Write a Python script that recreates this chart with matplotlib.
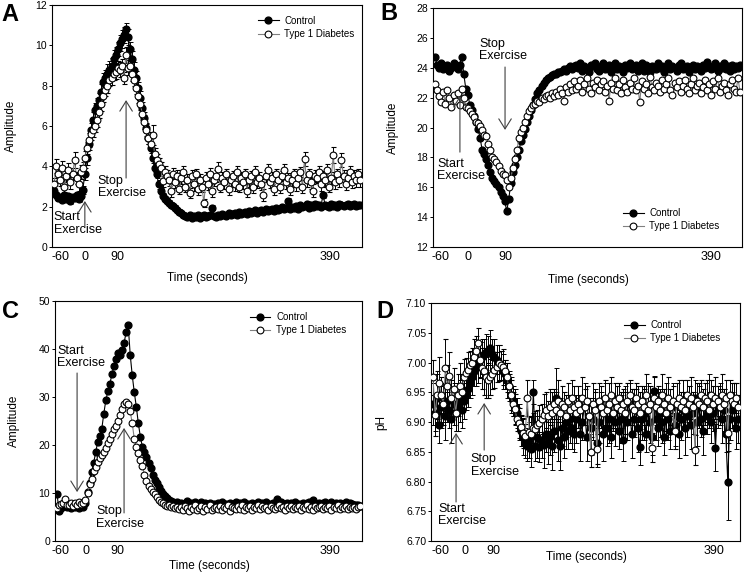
import numpy as np
import matplotlib
matplotlib.use("Agg")
import matplotlib.pyplot as plt
from matplotlib.ticker import FormatStrFormatter

plt.rcParams['font.family'] = ['Liberation Sans', 'DejaVu Sans']

tick_text = ["-60", "0", "90", "390"]
series_names = ["Control", "Type 1 Diabetes"]

# panel A (amplitude)
ctrl_a = [2.8, 2.6, 2.45, 2.5, 2.35, 2.6, 2.4, 2.55, 2.3, 2.5,
          2.45, 2.6, 2.4, 2.55, 2.85, 3.6, 4.4, 5.1, 5.8, 6.3,
          6.8, 7.0, 7.3, 7.7, 8.2, 8.4, 8.6, 8.8, 9.0, 9.3,
          9.5, 9.8, 10.1, 10.3, 10.5, 10.8, 10.4, 9.8, 9.3, 8.8,
          8.4, 7.9, 7.4, 6.9, 6.4, 5.9, 5.4, 4.9, 4.4, 3.9,
          3.6, 3.1, 2.8, 2.55, 2.4, 2.3, 2.2, 2.1, 2.05, 1.95,
          1.85, 1.75, 1.7, 1.6, 1.55, 1.5, 1.6, 1.45, 1.55, 1.5,
          1.6, 1.45, 1.55, 1.6, 1.5, 1.55, 1.6, 1.95, 1.55, 1.5,
          1.6, 1.55, 1.65, 1.6, 1.55, 1.7, 1.6, 1.65, 1.7, 1.6,
          1.75, 1.65, 1.7, 1.75, 1.65, 1.8, 1.7, 1.75, 1.85, 1.7,
          1.8, 1.85, 1.75, 1.9, 1.8, 1.85, 1.9, 1.8, 1.95, 1.85,
          1.9, 2.0, 1.9, 1.95, 2.3, 1.9, 2.0, 1.95, 2.05, 1.9,
          2.1, 2.0, 2.05, 2.15, 1.95, 2.1, 2.0, 2.15, 2.05, 2.1,
          2.0, 2.6, 2.1, 2.05, 2.0, 2.15, 2.05, 2.1, 2.0, 2.15,
          2.1, 2.05, 2.1, 2.15, 2.05, 2.1, 2.15, 2.05, 2.1, 2.1]
err_ctrl_a = [0.15, 0.12, 0.15, 0.1, 0.12, 0.15, 0.1, 0.12, 0.15, 0.12,
              0.1, 0.12, 0.15, 0.12, 0.2, 0.3, 0.35, 0.3, 0.35, 0.4,
              0.35, 0.4, 0.35, 0.4, 0.45, 0.4, 0.45, 0.4, 0.35, 0.45,
              0.4, 0.35, 0.4, 0.45, 0.4, 0.3, 0.4, 0.35, 0.4, 0.35,
              0.35, 0.3, 0.35, 0.3, 0.3, 0.25, 0.3, 0.25, 0.25, 0.2,
              0.2, 0.2, 0.15, 0.15, 0.15, 0.12, 0.12, 0.12, 0.1, 0.12,
              0.1, 0.12, 0.1, 0.12, 0.1, 0.12, 0.1, 0.12, 0.1, 0.12,
              0.1, 0.12, 0.1, 0.12, 0.1, 0.12, 0.1, 0.12, 0.1, 0.12,
              0.1, 0.12, 0.1, 0.12, 0.1, 0.12, 0.1, 0.12, 0.1, 0.12,
              0.1, 0.12, 0.1, 0.12, 0.1, 0.12, 0.1, 0.12, 0.1, 0.12,
              0.1, 0.12, 0.1, 0.12, 0.1, 0.12, 0.1, 0.12, 0.1, 0.12,
              0.1, 0.12, 0.1, 0.12, 0.15, 0.12, 0.1, 0.12, 0.1, 0.12,
              0.1, 0.12, 0.1, 0.12, 0.1, 0.12, 0.1, 0.12, 0.1, 0.12,
              0.1, 0.15, 0.1, 0.12, 0.1, 0.12, 0.1, 0.12, 0.1, 0.12,
              0.1, 0.12, 0.1, 0.12, 0.1, 0.12, 0.1, 0.12, 0.1, 0.12]
t1d_a = [3.1, 4.0, 3.6, 3.3, 3.9, 3.0, 3.5, 3.8, 3.2, 3.6,
         4.3, 3.4, 3.1, 3.7, 3.9, 4.4, 4.9, 5.3, 5.6, 5.8,
         6.0, 6.3, 6.7, 7.1, 7.5, 7.8, 8.0, 8.3, 8.4, 8.6,
         8.7, 8.9, 8.8, 9.0, 8.4, 9.5, 8.9, 9.0, 8.6, 8.3,
         7.9, 7.5, 7.1, 6.6, 6.2, 5.8, 5.4, 5.1, 5.55, 4.6,
         4.3, 4.1, 3.9, 3.25, 3.7, 3.5, 3.3, 2.8, 3.6, 3.2,
         3.5, 2.9, 3.4, 3.7, 3.0, 3.3, 2.7, 3.5, 3.1, 3.6,
         2.9, 3.3, 3.0, 2.2, 3.4, 3.1, 3.6, 2.8, 3.3, 3.5,
         3.85, 3.0, 3.4, 3.2, 3.6, 2.9, 3.3, 3.5, 3.1, 3.7,
         3.0, 3.4, 3.2, 3.6, 2.8, 3.3, 3.5, 3.0, 3.7, 3.2,
         3.4, 3.1, 2.6, 3.5, 3.8, 3.2, 3.4, 2.9, 3.6, 3.3,
         3.0, 3.5, 3.8, 3.2, 3.4, 2.9, 3.3, 3.6, 3.1, 3.4,
         3.7, 3.0, 4.35, 3.3, 3.6, 3.2, 2.8, 3.5, 3.4, 3.7,
         3.1, 3.5, 3.3, 3.8, 3.0, 3.4, 4.55, 3.2, 3.6, 3.3,
         4.3, 3.5, 3.1, 3.4, 3.7, 3.2, 3.5, 3.3, 3.6, 3.3]
err_t1d_a = [0.3, 0.35, 0.3, 0.25, 0.35, 0.3, 0.3, 0.35, 0.3, 0.3,
             0.4, 0.3, 0.3, 0.35, 0.3, 0.35, 0.3, 0.35, 0.3, 0.35,
             0.3, 0.35, 0.3, 0.35, 0.3, 0.3, 0.35, 0.3, 0.35, 0.3,
             0.35, 0.3, 0.35, 0.3, 0.3, 0.4, 0.35, 0.3, 0.35, 0.3,
             0.3, 0.35, 0.3, 0.3, 0.35, 0.3, 0.3, 0.3, 0.5, 0.3,
             0.3, 0.3, 0.3, 0.25, 0.3, 0.3, 0.25, 0.3, 0.3, 0.25,
             0.3, 0.25, 0.3, 0.3, 0.25, 0.3, 0.25, 0.3, 0.3, 0.25,
             0.3, 0.3, 0.25, 0.2, 0.3, 0.25, 0.3, 0.3, 0.25, 0.3,
             0.35, 0.25, 0.3, 0.3, 0.25, 0.3, 0.3, 0.25, 0.3, 0.3,
             0.25, 0.3, 0.3, 0.25, 0.3, 0.3, 0.25, 0.3, 0.3, 0.25,
             0.3, 0.25, 0.3, 0.3, 0.3, 0.25, 0.3, 0.3, 0.25, 0.3,
             0.3, 0.25, 0.3, 0.3, 0.25, 0.3, 0.3, 0.25, 0.3, 0.3,
             0.25, 0.3, 0.35, 0.3, 0.25, 0.3, 0.3, 0.3, 0.25, 0.3,
             0.3, 0.25, 0.3, 0.3, 0.25, 0.3, 0.4, 0.3, 0.25, 0.3,
             0.35, 0.3, 0.25, 0.3, 0.3, 0.25, 0.3, 0.3, 0.25, 0.3]

# panel B (amplitude)
ctrl_b = [24.7, 24.2, 24.0, 24.3, 23.9, 24.1, 24.2, 23.8, 24.0, 24.3,
          24.1, 23.9, 24.2, 24.7, 23.6, 22.6, 22.2, 21.5, 21.2, 20.8,
          20.4, 19.9, 19.3, 18.5, 18.2, 17.9, 17.5, 17.0, 16.6, 16.4,
          16.2, 16.0, 15.7, 15.4, 15.1, 14.4, 15.2, 16.3, 17.0, 17.5,
          18.0, 18.5, 19.1, 19.5, 19.9, 20.4, 20.8, 21.2, 21.5, 21.9,
          22.3, 22.5, 22.8, 23.0, 23.2, 23.3, 23.4, 23.5, 23.6, 23.6,
          23.7, 23.7, 23.8, 23.9, 23.8, 24.0, 24.1, 23.9, 24.1, 24.2,
          24.0, 24.3, 23.8, 24.1, 24.0, 23.7, 24.2, 24.1, 24.35, 23.9,
          23.8, 24.1, 24.3, 23.9, 24.0, 24.2, 23.7, 24.0, 24.3, 23.9,
          24.1, 24.0, 23.7, 24.2, 24.0, 24.3, 23.9, 24.0, 24.2, 23.8,
          24.0, 24.3, 23.8, 24.2, 24.0, 23.7, 24.1, 24.0, 23.9, 24.3,
          24.0, 24.1, 23.7, 24.0, 24.3, 23.9, 24.1, 24.0, 23.8, 24.2,
          24.3, 23.9, 24.0, 24.1, 23.7, 24.0, 24.2, 23.9, 24.1, 24.0,
          23.8, 24.2, 24.0, 24.4, 24.1, 23.9, 24.0, 24.3, 23.8, 24.1,
          24.0, 24.3, 23.9, 24.1, 23.8, 24.2, 23.9, 24.1, 24.0, 24.2]
t1d_b = [22.9, 22.5, 22.1, 21.7, 22.4, 21.6, 22.5, 22.0, 21.4, 22.2,
         21.8, 22.3, 21.5, 22.6, 22.0, 21.4, 21.3, 21.1, 20.9, 20.7,
         20.4, 20.3, 20.1, 19.8, 19.5, 19.4, 18.9, 18.5, 18.0, 17.9,
         17.7, 17.4, 17.1, 16.9, 16.8, 16.5, 16.0, 16.6, 17.3, 17.9,
         18.5, 19.3, 19.7, 20.0, 20.4, 20.8, 21.1, 21.3, 21.5, 21.6,
         21.8, 21.7, 22.0, 21.9, 22.1, 22.2, 22.0, 22.3, 22.1, 22.4,
         22.2, 22.6, 22.3, 21.8, 22.7, 22.4, 22.9, 22.5, 23.1, 22.6,
         22.8, 23.2, 22.4, 22.9, 23.3, 22.6, 22.3, 23.0, 22.7, 23.2,
         22.5, 22.9, 23.1, 22.4, 22.8, 21.8, 23.0, 22.6, 23.3, 22.5,
         22.9, 22.3, 23.2, 22.7, 22.4, 23.0, 22.6, 23.3, 22.5, 22.8,
         21.7, 23.1, 22.6, 22.9, 22.3, 23.4, 22.7, 22.5, 23.0, 22.8,
         22.4, 23.2, 22.6, 22.9, 23.3, 22.5, 22.2, 23.0, 22.7, 23.1,
         22.4, 22.8, 23.2, 22.6, 22.3, 22.9, 23.3, 22.5, 22.8, 23.0,
         22.3, 22.7, 23.2, 22.5, 22.9, 22.2, 23.1, 22.6, 23.3, 22.4,
         22.8, 23.0, 22.5, 22.2, 22.9, 23.2, 22.6, 22.4, 23.3, 22.4]

# panel C (amplitude)
ctrl_c = [9.8, 6.3, 6.8, 7.2, 7.8, 7.0, 7.5, 6.8, 7.6, 7.1,
          7.4, 6.9, 7.5, 7.0, 8.0, 10.2, 12.0, 14.3, 16.2, 18.5,
          20.6, 21.8, 23.3, 26.5, 29.3, 31.2, 32.8, 34.7, 36.4, 37.9,
          39.2, 38.7, 39.8, 41.3, 43.5, 45.0, 38.8, 34.5, 31.0, 28.0,
          24.5, 21.7, 19.6, 18.6, 17.6, 16.3, 15.2, 13.8, 12.7, 12.1,
          11.2, 10.4, 9.8, 9.4, 8.9, 8.5, 8.3, 8.1, 7.9, 8.2,
          7.6, 8.0, 7.3, 7.8, 8.3, 7.5, 7.9, 7.2, 8.1, 7.7,
          7.4, 8.2, 7.6, 7.9, 7.3, 8.0, 7.5, 7.8, 7.2, 7.9,
          7.6, 8.1, 7.4, 7.8, 7.5, 8.0, 7.3, 7.7, 8.2, 7.5,
          7.9, 7.6, 8.1, 7.4, 7.8, 7.5, 8.0, 7.3, 7.7, 8.2,
          7.5, 7.9, 7.6, 8.1, 7.4, 7.8, 8.0, 7.5, 8.8, 7.6,
          8.1, 7.4, 7.8, 8.0, 7.5, 7.9, 7.6, 8.2, 7.4, 7.8,
          7.6, 8.0, 7.3, 7.9, 8.1, 7.6, 8.5, 7.8, 7.6, 8.0,
          7.3, 7.9, 8.1, 7.6, 7.8, 8.2, 7.5, 7.9, 7.7, 8.0,
          7.6, 7.8, 8.1, 7.5, 7.9, 7.7, 7.6, 7.4, 7.5, 7.2]
t1d_c = [6.9, 7.4, 7.7, 8.0, 8.7, 7.6, 7.4, 7.9, 7.3, 8.0,
         7.6, 8.2, 7.7, 7.9, 8.5, 10.0, 11.8, 13.0, 14.5, 15.5,
         16.4, 17.2, 17.9, 18.6, 19.3, 20.4, 21.3, 22.3, 23.4, 23.9,
         25.1, 26.2, 27.5, 28.5, 28.9, 28.6, 27.0, 24.5, 21.3, 19.5,
         18.3, 16.9, 15.7, 13.8, 12.6, 11.5, 10.8, 10.3, 9.7, 9.1,
         8.6, 8.2, 7.9, 7.6, 7.3, 7.5, 7.0, 7.2, 6.8, 7.1,
         6.6, 7.1, 6.4, 7.3, 6.8, 6.2, 7.0, 6.7, 7.4, 6.5,
         6.9, 7.2, 6.3, 7.0, 6.7, 7.5, 6.4, 6.9, 7.1, 6.6,
         7.3, 6.5, 7.0, 6.8, 7.4, 6.3, 7.1, 6.9, 6.6, 7.2,
         6.7, 7.5, 6.4, 7.0, 6.8, 7.3, 6.5, 7.1, 6.9, 7.6,
         6.6, 7.2, 6.8, 7.0, 6.4, 7.3, 6.9, 6.6, 7.1, 7.4,
         6.8, 7.0, 6.5, 7.2, 6.9, 7.3, 6.6, 7.0, 6.8, 7.2,
         6.5, 7.1, 6.9, 7.4, 6.7, 7.0, 6.4, 7.2, 6.8, 7.1,
         7.3, 6.6, 7.0, 6.8, 7.2, 6.5, 7.1, 6.9, 7.4, 6.7,
         7.0, 6.8, 7.2, 6.6, 7.1, 6.9, 7.0, 6.7, 7.1, 7.2]

# panel D (pH)
ctrl_d = [6.930, 6.915, 6.940, 6.895, 6.925, 6.930, 6.910, 6.935, 6.920, 6.905,
          6.930, 6.915, 6.925, 6.935, 6.920, 6.935, 6.945, 6.955, 6.965, 6.975,
          6.985, 6.990, 7.000, 7.005, 7.010, 7.015, 7.018, 7.020, 7.025, 7.015,
          7.010, 7.005, 7.000, 6.995, 6.985, 6.980, 6.970, 6.960, 6.945, 6.935,
          6.925, 6.915, 6.900, 6.885, 6.875, 6.865, 6.860, 6.870, 6.855, 6.950,
          6.860, 6.875, 6.858, 6.870, 6.862, 6.880, 6.865, 6.875, 6.860, 6.885,
          6.940, 6.870, 6.860, 6.890, 6.875, 6.900, 6.885, 6.905, 6.890, 6.880,
          6.905, 6.925, 6.880, 6.900, 6.930, 6.875, 6.910, 6.890, 6.905, 6.925,
          6.865, 6.900, 6.920, 6.880, 6.930, 6.890, 6.905, 6.875, 6.915, 6.900,
          6.925, 6.885, 6.905, 6.870, 6.915, 6.900, 6.930, 6.880, 6.905, 6.920,
          6.890, 6.858, 6.905, 6.915, 6.880, 6.925, 6.900, 6.875, 6.952, 6.905,
          6.890, 6.915, 6.900, 6.875, 6.920, 6.905, 6.885, 6.925, 6.895, 6.910,
          6.880, 6.905, 6.920, 6.890, 6.910, 6.930, 6.895, 6.915, 6.940, 6.900,
          6.925, 6.905, 6.885, 6.930, 6.910, 6.935, 6.900, 6.915, 6.857, 6.925,
          6.935, 6.905, 6.920, 6.880, 6.800, 6.905, 6.920, 6.925, 6.890, 6.905]
err_ctrl_d = [0.035, 0.03, 0.04, 0.03, 0.035, 0.03, 0.04, 0.035, 0.03, 0.04,
              0.035, 0.03, 0.04, 0.035, 0.03, 0.03, 0.025, 0.03, 0.025, 0.03,
              0.025, 0.03, 0.035, 0.03, 0.03, 0.025, 0.03, 0.025, 0.03, 0.025,
              0.03, 0.025, 0.03, 0.025, 0.03, 0.025, 0.03, 0.025, 0.03, 0.025,
              0.03, 0.025, 0.03, 0.025, 0.03, 0.025, 0.025, 0.03, 0.03, 0.02,
              0.025, 0.035, 0.025, 0.03, 0.04, 0.03, 0.035, 0.03, 0.04, 0.035,
              0.05, 0.035, 0.04, 0.03, 0.035, 0.045, 0.03, 0.04, 0.035, 0.03,
              0.04, 0.035, 0.045, 0.03, 0.035, 0.04, 0.03, 0.045, 0.035, 0.03,
              0.04, 0.035, 0.03, 0.045, 0.035, 0.03, 0.04, 0.035, 0.03, 0.04,
              0.035, 0.03, 0.04, 0.035, 0.045, 0.03, 0.035, 0.04, 0.03, 0.035,
              0.04, 0.03, 0.035, 0.045, 0.03, 0.04, 0.035, 0.03, 0.025, 0.035,
              0.03, 0.04, 0.035, 0.03, 0.045, 0.035, 0.03, 0.04, 0.035, 0.03,
              0.04, 0.035, 0.03, 0.045, 0.035, 0.03, 0.04, 0.035, 0.03, 0.04,
              0.035, 0.03, 0.04, 0.035, 0.03, 0.045, 0.035, 0.03, 0.04, 0.035,
              0.03, 0.04, 0.035, 0.03, 0.065, 0.035, 0.03, 0.04, 0.035, 0.04]
t1d_d = [6.975, 6.912, 6.945, 6.965, 6.945, 6.930, 6.990, 6.960, 6.978, 6.940,
         6.955, 6.915, 6.945, 6.960, 6.950, 6.976, 6.982, 6.988, 6.995, 7.000,
         7.010, 7.020, 7.033, 7.004, 6.990, 6.985, 6.975, 6.970, 6.976, 6.980,
         6.988, 6.992, 6.999, 6.995, 6.993, 6.985, 6.975, 6.960, 6.945, 6.930,
         6.922, 6.905, 6.898, 6.892, 6.882, 6.876, 6.940, 6.884, 6.880, 6.890,
         6.888, 6.895, 6.898, 6.905, 6.912, 6.920, 6.910, 6.925, 6.915, 6.930,
         6.920, 6.935, 6.915, 6.930, 6.925, 6.910, 6.935, 6.920, 6.940, 6.925,
         6.915, 6.930, 6.920, 6.940, 6.925, 6.935, 6.910, 6.850, 6.930, 6.920,
         6.855, 6.935, 6.925, 6.915, 6.940, 6.920, 6.930, 6.945, 6.915, 6.935,
         6.925, 6.940, 6.920, 6.930, 6.915, 6.935, 6.945, 6.925, 6.920, 6.940,
         6.930, 6.915, 6.935, 6.925, 6.945, 6.920, 6.930, 6.857, 6.940, 6.925,
         6.935, 6.920, 6.945, 6.930, 6.915, 6.940, 6.925, 6.935, 6.885, 6.930,
         6.940, 6.925, 6.935, 6.920, 6.945, 6.930, 6.940, 6.925, 6.853, 6.935,
         6.930, 6.945, 6.925, 6.940, 6.935, 6.920, 6.945, 6.930, 6.940, 6.935,
         6.925, 6.945, 6.930, 6.940, 6.882, 6.945, 6.935, 6.930, 6.940, 6.925]
err_t1d_d = [0.03, 0.035, 0.04, 0.045, 0.03, 0.035, 0.05, 0.035, 0.04, 0.03,
             0.035, 0.03, 0.035, 0.04, 0.03, 0.03, 0.025, 0.03, 0.025, 0.025,
             0.03, 0.025, 0.025, 0.03, 0.035, 0.04, 0.035, 0.03, 0.03, 0.025,
             0.03, 0.025, 0.03, 0.025, 0.03, 0.02, 0.025, 0.02, 0.025, 0.02,
             0.025, 0.02, 0.025, 0.02, 0.025, 0.02, 0.03, 0.025, 0.03, 0.025,
             0.03, 0.025, 0.03, 0.025, 0.035, 0.03, 0.025, 0.03, 0.035, 0.025,
             0.03, 0.035, 0.025, 0.03, 0.025, 0.035, 0.03, 0.025, 0.03, 0.035,
             0.025, 0.03, 0.025, 0.035, 0.03, 0.025, 0.03, 0.025, 0.035, 0.03,
             0.025, 0.03, 0.035, 0.025, 0.03, 0.025, 0.035, 0.03, 0.025, 0.03,
             0.035, 0.025, 0.03, 0.025, 0.035, 0.03, 0.025, 0.03, 0.035, 0.025,
             0.03, 0.035, 0.025, 0.03, 0.035, 0.025, 0.03, 0.025, 0.035, 0.03,
             0.025, 0.03, 0.035, 0.025, 0.03, 0.035, 0.03, 0.025, 0.03, 0.035,
             0.03, 0.025, 0.035, 0.03, 0.025, 0.03, 0.035, 0.025, 0.025, 0.03,
             0.035, 0.025, 0.03, 0.025, 0.035, 0.03, 0.025, 0.03, 0.035, 0.025,
             0.03, 0.035, 0.025, 0.03, 0.03, 0.025, 0.03, 0.035, 0.025, 0.02]


fig = plt.figure(figsize=(7.47, 5.75), dpi=100)

MS = 4.9


def draw_panel(ax, ctrl, t1d, err_c=None, err_t=None):
    x = np.arange(len(ctrl))
    if err_c is None:
        h1, = ax.plot(x, ctrl, '-o', color='black', mfc='black', mec='black',
                      ms=MS, lw=0.8, zorder=2)
        h2, = ax.plot(x, t1d, '-o', color='0.5', mfc='white', mec='black',
                      mew=0.8, ms=MS, lw=0.8, zorder=3)
    else:
        e1 = ax.errorbar(x, ctrl, yerr=err_c, fmt='-o', color='black',
                         mfc='black', mec='black', ms=MS, lw=0.8,
                         ecolor='black', elinewidth=0.7, capsize=1.8,
                         capthick=0.7, zorder=2)
        e2 = ax.errorbar(x, t1d, yerr=err_t, fmt='-o', color='0.5',
                         mfc='white', mec='black', mew=0.8, ms=MS, lw=0.8,
                         ecolor='black', elinewidth=0.7, capsize=1.8,
                         capthick=0.7, zorder=3)
        h1, h2 = e1[0], e2[0]
    ax.set_xlim(-1, len(ctrl))
    for s in ax.spines.values():
        s.set_linewidth(0.8)
    ax.tick_params(axis='x', length=0, pad=3, labelsize=9)
    ax.tick_params(axis='y', length=2.5, width=0.7, direction='out', pad=1,
                   labelsize=7.5)
    return h1, h2


def label_arrow(ax, text, text_xy, tip, tail):
    ax.text(text_xy[0], text_xy[1], text, transform=ax.transAxes,
            ha='left', va='center', fontsize=9, linespacing=1.05)
    ax.annotate('', xy=tip, xytext=tail, xycoords='axes fraction',
                textcoords='axes fraction',
                arrowprops=dict(arrowstyle='->,head_length=0.72,head_width=0.45',
                                color='#404040', lw=0.8, shrinkA=0, shrinkB=0,
                                mutation_scale=10))


def finish(ax, ticks, ylab, ylab_x, xlab_y, handles, leg_xy):
    ax.set_xticks(ticks)
    ax.set_xticklabels(tick_text)
    ax.set_ylabel(ylab, fontsize=8.5)
    ax.yaxis.set_label_coords(ylab_x, 0.5)
    ax.set_xlabel("Time (seconds)", fontsize=8.5)
    ax.xaxis.set_label_coords(0.503, xlab_y)
    ax.xaxis.label.set_va('center')
    ax.legend(handles, series_names, loc='upper left', bbox_to_anchor=leg_xy,
              frameon=False, fontsize=7, handlelength=2.1, handletextpad=0.6,
              labelspacing=0.35, borderpad=0, borderaxespad=0)


# A
ax = fig.add_axes([0.0696, 0.5704, 0.415, 0.4209])
h = draw_panel(ax, ctrl_a, t1d_a, err_ctrl_a, err_t1d_a)
ax.set_ylim(0, 12)
ax.set_yticks(np.arange(0, 13, 2))
finish(ax, [3.38, 15.07, 30.66, 134.4], "Amplitude", -0.113, -0.128, h, (0.665, 0.955))
label_arrow(ax, "Start\nExercise", (0.006, 0.097), (0.106, 0.19), (0.106, 0.083))
label_arrow(ax, "Stop\nExercise", (0.148, 0.248), (0.239, 0.607), (0.239, 0.285))

# B
ax = fig.add_axes([0.5797, 0.5704, 0.4137, 0.4157])
h = draw_panel(ax, ctrl_b, t1d_b)
ax.set_ylim(12, 28)
ax.set_yticks(np.arange(12, 29, 2))
finish(ax, [2.42, 16.1, 34.18, 134.85], "Amplitude", -0.11, -0.138, h, (0.615, 0.163))
label_arrow(ax, "Start\nExercise", (0.013, 0.322), (0.087, 0.632), (0.087, 0.397))
label_arrow(ax, "Stop\nExercise", (0.149, 0.824), (0.233, 0.49), (0.233, 0.753))

# C
ax = fig.add_axes([0.0736, 0.0591, 0.411, 0.4174])
h = draw_panel(ax, ctrl_c, t1d_c)
ax.set_ylim(0, 50)
ax.set_yticks(np.arange(0, 51, 10))
finish(ax, [1.95, 14.25, 29.5, 134.27], "Amplitude", -0.114, -0.104, h, (0.635, 0.954))
label_arrow(ax, "Start\nExercise", (0.0065, 0.767), (0.072, 0.204), (0.072, 0.70))
label_arrow(ax, "Stop\nExercise", (0.134, 0.098), (0.225, 0.471), (0.225, 0.117))

# D
ax = fig.add_axes([0.577, 0.0591, 0.4137, 0.4139])
h = draw_panel(ax, ctrl_d, t1d_d, err_ctrl_d, err_t1d_d)
ax.set_ylim(6.70, 7.10)
ax.set_yticks(np.arange(6.70, 7.101, 0.05))
ax.yaxis.set_major_formatter(FormatStrFormatter('%.2f'))
finish(ax, [3.4, 15.6, 29.3, 137.3], "pH", -0.142, -0.067, h, (0.625, 0.929))
label_arrow(ax, "Start\nExercise", (0.023, 0.109), (0.081, 0.454), (0.081, 0.164))
label_arrow(ax, "Stop\nExercise", (0.129, 0.317), (0.172, 0.58), (0.172, 0.382))

for letter, fx, fy in [("A", 0.0134, 0.974), ("B", 0.5207, 0.9757),
                       ("C", 0.0134, 0.459), ("D", 0.5154, 0.4574)]:
    fig.text(fx, fy, letter, fontsize=17, fontweight='bold', ha='center', va='center')

fig.savefig("out.png", dpi=100)
